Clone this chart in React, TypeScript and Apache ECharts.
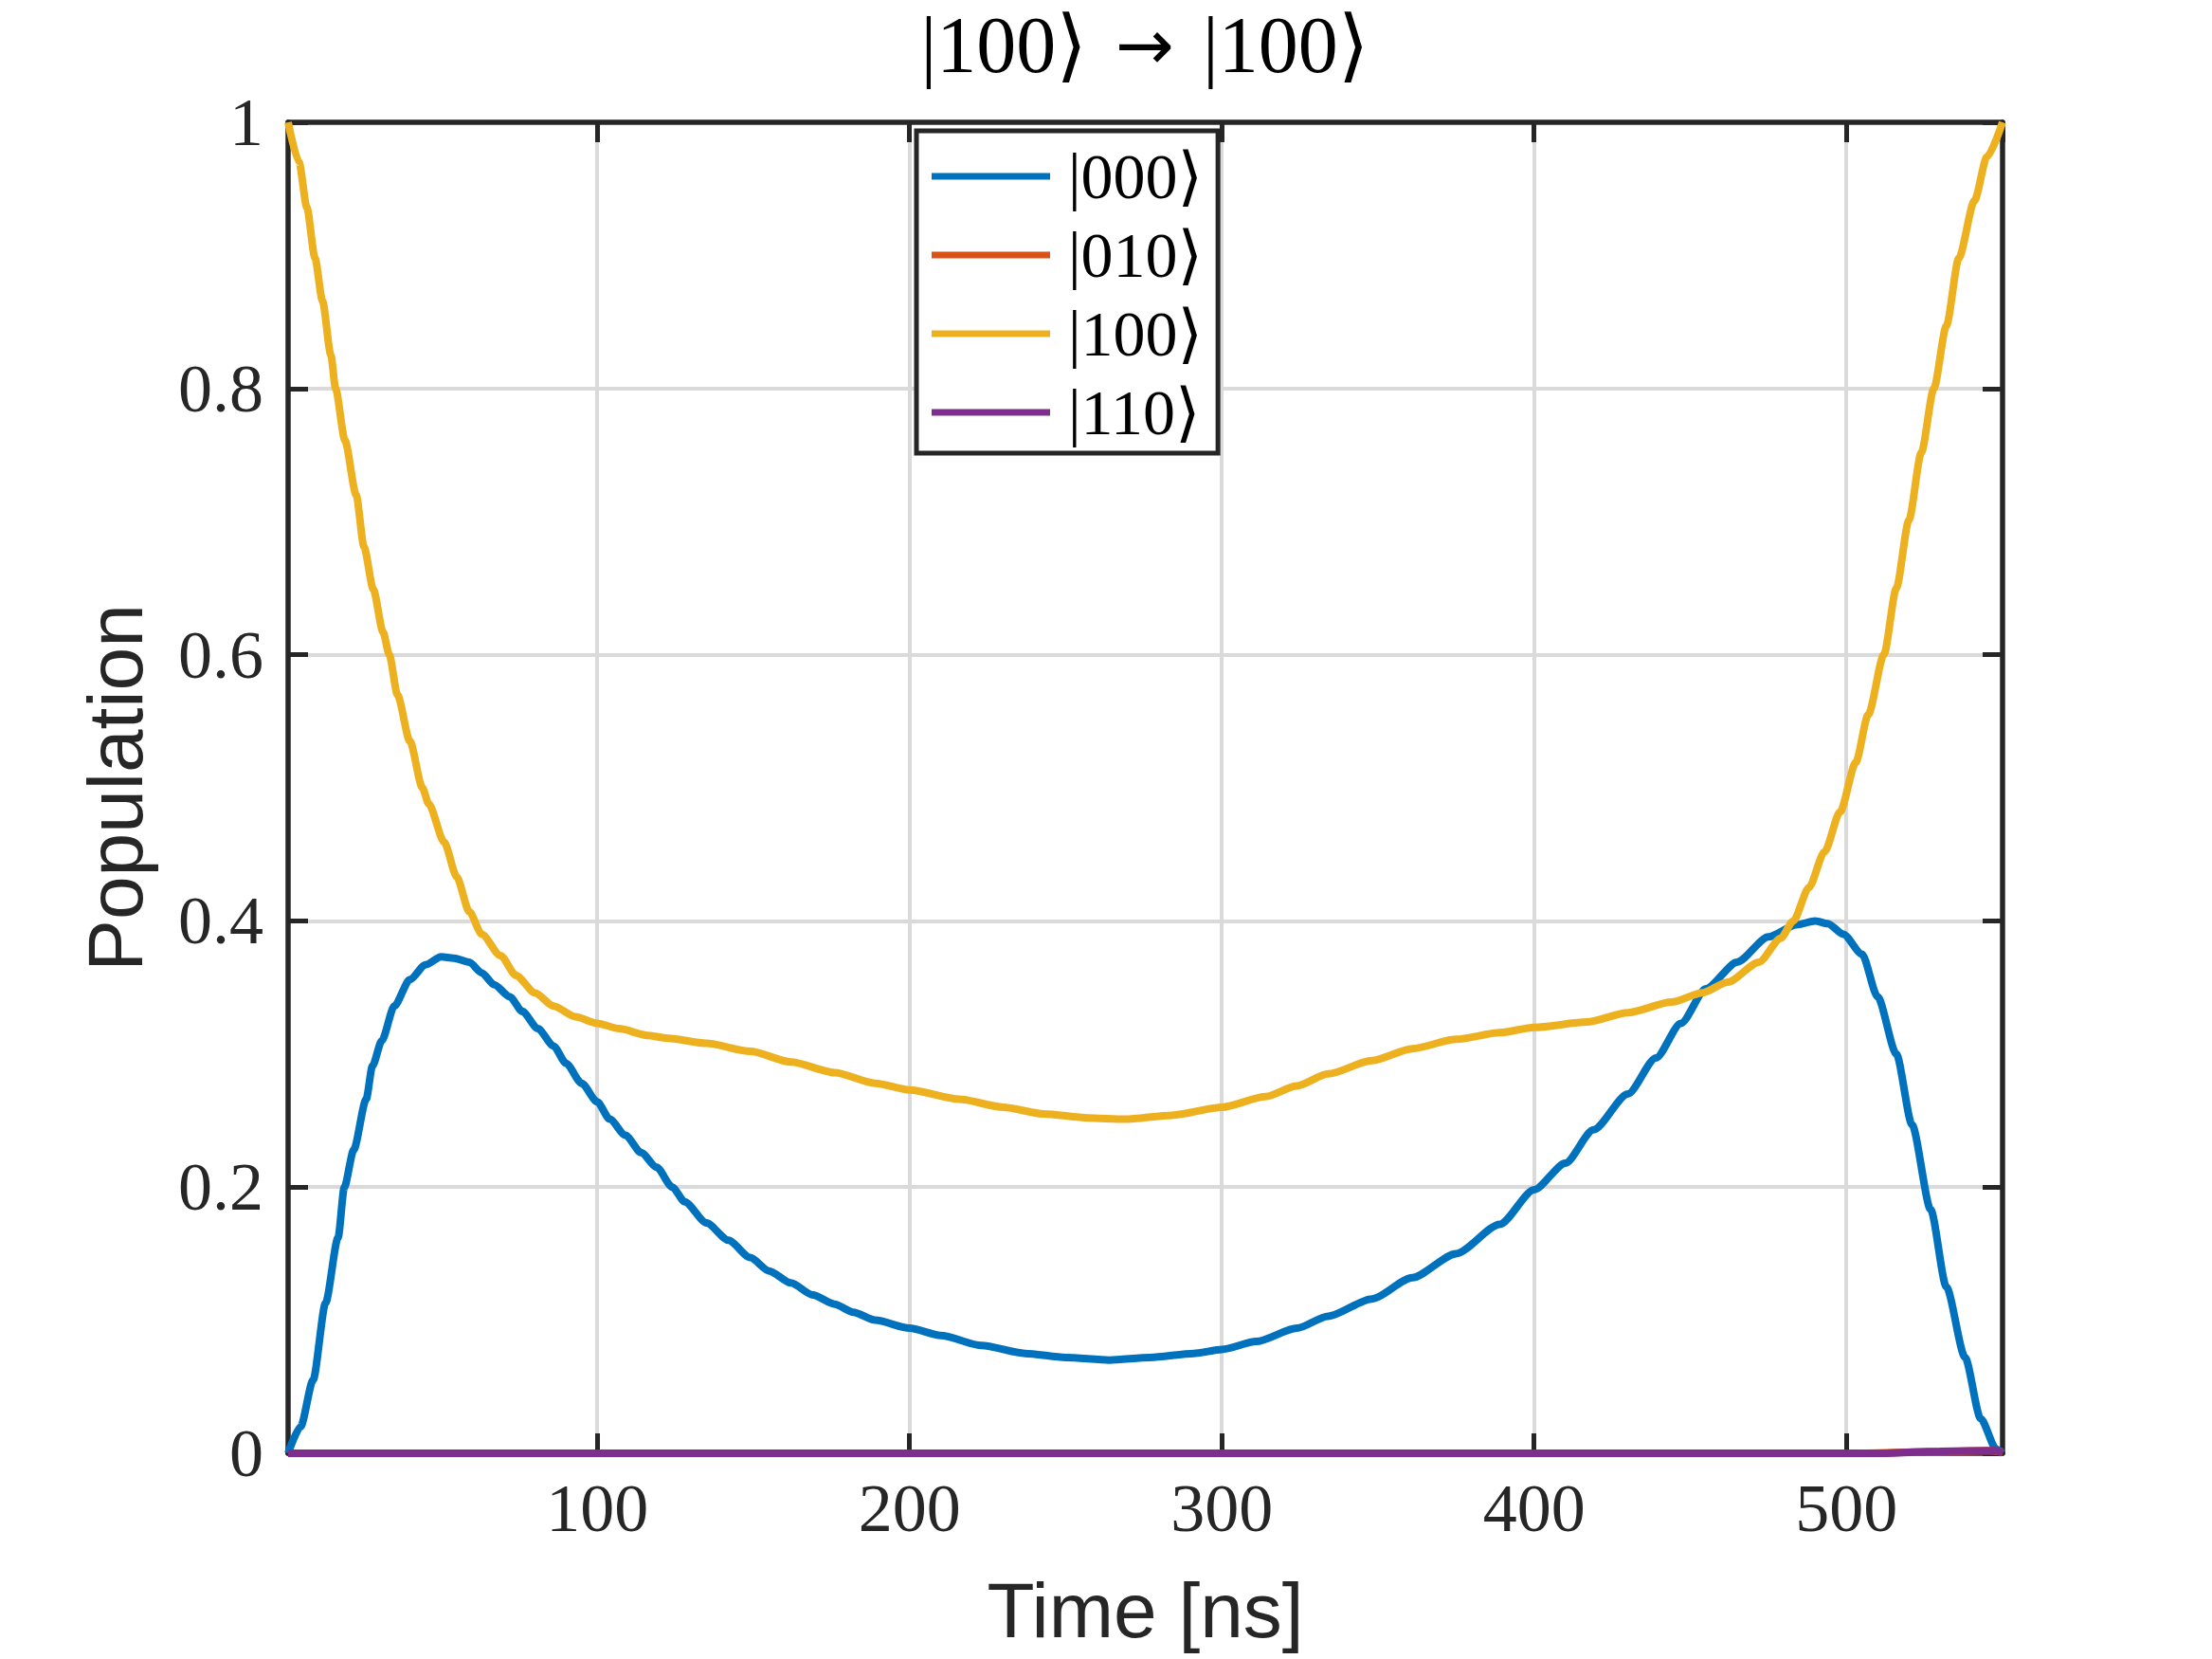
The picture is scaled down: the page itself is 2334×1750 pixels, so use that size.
import React, { useEffect, useRef } from "react";
import * as echarts from "echarts";

const TITLE_KET = "|100⟩";
const TITLE_ARROW = "→";
const X_NAME = "Time [ns]";
const Y_NAME = "Population";
const STATE_NAMES = ["|000⟩", "|010⟩", "|100⟩", "|110⟩"];
const STATE_COLORS = ["#0072BD", "#D95319", "#EDB120", "#7E2F8E"];

const X_MIN = 1;
const X_MAX = 550;
const Y_TICKS = [0, 0.2, 0.4, 0.6, 0.8, 1];

// |000> population
const T_000 = [
  1, 5, 9, 13, 17, 19, 22, 26, 28, 31, 35, 40, 45, 50, 54, 59, 63, 67, 72, 76,
  81, 86, 90, 95, 100, 104, 109, 114, 119, 124, 128, 135, 142, 149, 155, 162,
  169, 176, 182, 189, 200, 210, 223, 237, 250, 264, 277, 291, 300, 311, 324,
  334, 348, 361, 375, 389, 400, 410, 419, 430, 439, 447, 455, 465, 475, 484,
  490, 494, 499, 505, 510, 516, 521, 527, 532, 538, 543, 548, 550,
];
const P_000 = [
  0, 0.02, 0.055, 0.113, 0.162, 0.2, 0.228, 0.266, 0.291, 0.31, 0.336, 0.356,
  0.367, 0.373, 0.372, 0.369, 0.361, 0.352, 0.343, 0.332, 0.319, 0.306, 0.293,
  0.278, 0.264, 0.251, 0.239, 0.226, 0.215, 0.2, 0.189, 0.173, 0.16, 0.147,
  0.137, 0.128, 0.119, 0.112, 0.106, 0.1, 0.094, 0.0885, 0.081, 0.075, 0.072,
  0.07, 0.072, 0.075, 0.078, 0.084, 0.094, 0.103, 0.116, 0.132, 0.15, 0.172,
  0.198, 0.218, 0.243, 0.27, 0.297, 0.323, 0.349, 0.369, 0.388, 0.397, 0.4,
  0.398, 0.39, 0.375, 0.343, 0.3, 0.247, 0.183, 0.125, 0.072, 0.026, 0.003, 0,
];

// |010> population
const T_010 = [1, 505, 525, 545, 550];
const P_010 = [0, 0, 0.001, 0.002, 0.001];

// |100> population
const T_100 = [
  1, 4.5, 7, 9.6, 12, 14.7, 16.2, 19.2, 22.8, 25.3, 28.3, 31.4, 33.4, 36, 40,
  44, 46, 51, 55, 59, 63, 69, 74, 80, 86, 93, 100, 107, 116, 122, 135, 149, 162,
  176, 189, 200, 216, 230, 243, 257, 269, 284, 300, 314, 324, 334, 348, 361,
  375, 389, 400, 417, 430, 444, 454, 462, 472, 479, 483, 488, 493, 498, 503,
  507, 512, 516, 520, 524, 528, 532, 536, 541, 545, 550,
];
const P_100 = [
  1.0, 0.97, 0.936, 0.898, 0.866, 0.825, 0.8, 0.761, 0.72, 0.681, 0.649, 0.617,
  0.6, 0.57, 0.535, 0.5, 0.488, 0.459, 0.433, 0.407, 0.39, 0.374, 0.359, 0.346,
  0.336, 0.328, 0.323, 0.319, 0.314, 0.312, 0.308, 0.302, 0.294, 0.286, 0.278,
  0.273, 0.266, 0.26, 0.255, 0.252, 0.251, 0.254, 0.26, 0.268, 0.276, 0.285,
  0.295, 0.304, 0.311, 0.316, 0.32, 0.324, 0.331, 0.339, 0.346, 0.354, 0.369,
  0.387, 0.4, 0.425, 0.452, 0.482, 0.519, 0.555, 0.6, 0.65, 0.701, 0.752, 0.8,
  0.847, 0.898, 0.941, 0.974, 1.0,
];

// |110> population
const T_110 = [1, 510, 530, 548, 550];
const P_110 = [0, 0, 0.0015, 0.002, 0];

const zip = (t: number[], p: number[]) => t.map((x, i) => [x, p[i]]);

const SERIES_T = [T_000, T_010, T_100, T_110];
const SERIES_P = [P_000, P_010, P_100, P_110];

const SERIF = '"Liberation Serif", "DejaVu Serif", serif';
const SANS = '"Liberation Sans", Arial, sans-serif';
const AXIS = "#262626";
const GRID = "#dadada";

export default function App() {
  const ref = useRef<HTMLDivElement>(null);
  useEffect(() => {
    document.body.style.margin = "0";
    if (!ref.current) return;
    const chart = echarts.init(ref.current, null, { renderer: "svg" });

    const axisLine = { show: true, onZero: false, lineStyle: { color: AXIS, width: 5.5 } };
    const axisTick = { show: true, inside: true, length: 21, lineStyle: { color: AXIS, width: 5 } };

    const option: any = {
      animation: false,
      backgroundColor: "#ffffff",
      title: {
        text: `{k|${TITLE_KET}}{a|${TITLE_ARROW}}{k|${TITLE_KET}}`,
        left: 1208,
        top: 5,
        textAlign: "center",
        padding: 0,
        textStyle: {
          fontFamily: SERIF,
          fontSize: 84,
          fontWeight: "normal",
          color: "#000",
          rich: {
            k: { fontFamily: SERIF, fontSize: 84, color: "#000" },
            a: { fontFamily: '"DejaVu Sans", sans-serif', fontSize: 74, color: "#000", padding: [0, 30, 0, 30] },
          },
        },
      },
      grid: { left: 304, top: 129, width: 1809, height: 1404, containLabel: false },
      legend: {
        orient: "vertical",
        left: 967,
        top: 138,
        padding: [13, 16, 8, 16],
        itemWidth: 125,
        itemHeight: 7,
        itemGap: 13,
        icon: "rect",
        borderColor: AXIS,
        borderWidth: 5,
        borderRadius: 0,
        backgroundColor: "#ffffff",
        selectedMode: false,
        textStyle: { fontFamily: SERIF, fontSize: 68, color: "#000", lineHeight: 70, padding: [0, 0, 0, 14] },
        data: STATE_NAMES,
      },
      xAxis: [
        {
          type: "value",
          min: X_MIN,
          max: X_MAX,
          splitNumber: 5,
          position: "bottom",
          name: X_NAME,
          nameLocation: "middle",
          nameGap: 124,
          nameTextStyle: { fontFamily: SANS, fontSize: 82, color: AXIS },
          axisLine,
          axisTick,
          axisLabel: {
            show: true,
            margin: 22,
            fontFamily: SERIF,
            fontSize: 72,
            color: AXIS,
            showMinLabel: false,
            showMaxLabel: false,
          },
          splitLine: { show: true, lineStyle: { color: GRID, width: 4 } },
        },
        {
          type: "value",
          min: X_MIN,
          max: X_MAX,
          splitNumber: 5,
          position: "top",
          axisLine,
          axisTick,
          axisLabel: { show: false },
          splitLine: { show: false },
        },
      ],
      yAxis: [
        {
          type: "value",
          min: 0,
          max: 1,
          interval: 0.2,
          position: "left",
          name: Y_NAME,
          nameLocation: "middle",
          nameGap: 142,
          nameTextStyle: { fontFamily: SANS, fontSize: 82, color: AXIS },
          axisLine,
          axisTick,
          axisLabel: {
            show: true,
            margin: 26,
            fontFamily: SERIF,
            fontSize: 72,
            color: AXIS,
            formatter: (v: number) => {
              const t = Y_TICKS.find((y) => Math.abs(y - v) < 1e-9);
              return t === undefined ? "" : String(t);
            },
          },
          splitLine: { show: true, lineStyle: { color: GRID, width: 4 } },
        },
        {
          type: "value",
          min: 0,
          max: 1,
          interval: 0.2,
          position: "right",
          axisLine,
          axisTick,
          axisLabel: { show: false },
          splitLine: { show: false },
        },
      ],
      series: STATE_NAMES.map((name, i) => ({
        name,
        type: "line",
        xAxisIndex: 0,
        yAxisIndex: 0,
        data: zip(SERIES_T[i], SERIES_P[i]),
        showSymbol: false,
        symbol: "none",
        smooth: 0.25,
        smoothMonotone: "x",
        color: STATE_COLORS[i],
        lineStyle: { color: STATE_COLORS[i], width: 8 },
        itemStyle: { color: STATE_COLORS[i] },
        z: 2 + i,
      })),
    };
    chart.setOption(option);
    return () => chart.dispose();
  }, []);
  return <div ref={ref} style={{ width: 2334, height: 1750 }} />;
}
